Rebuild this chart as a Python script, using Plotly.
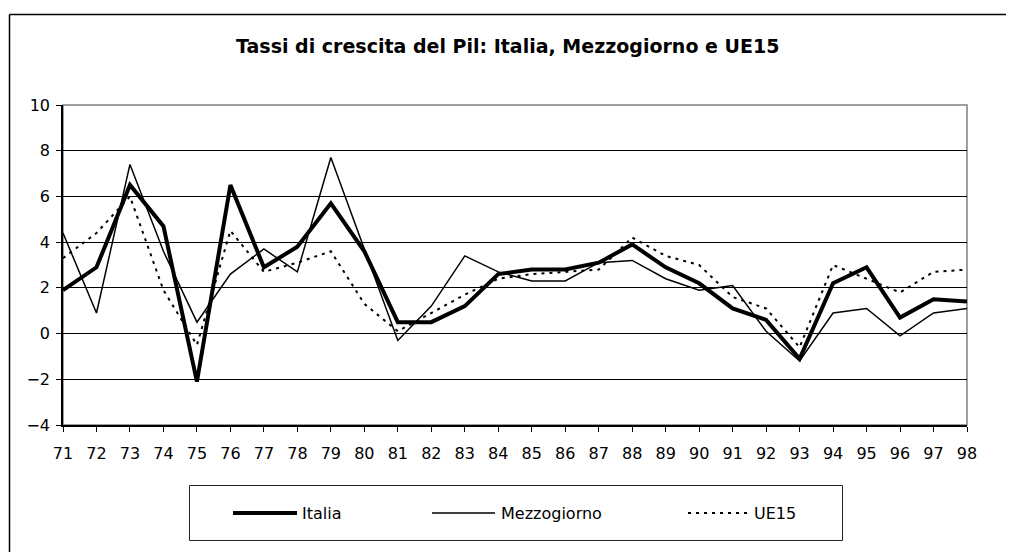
import plotly.graph_objects as go

years = ["71","72","73","74","75","76","77","78","79","80","81","82","83","84",
         "85","86","87","88","89","90","91","92","93","94","95","96","97","98"]
italia = [1.9, 2.9, 6.5, 4.7, -2.1, 6.5, 2.9, 3.8, 5.7, 3.6, 0.5, 0.5, 1.2, 2.6,
          2.8, 2.8, 3.1, 3.9, 2.9, 2.2, 1.1, 0.6, -1.1, 2.2, 2.9, 0.7, 1.5, 1.4]
mezzogiorno = [4.4, 0.9, 7.4, 3.6, 0.5, 2.6, 3.7, 2.7, 7.7, 3.7, -0.3, 1.2, 3.4, 2.7,
               2.3, 2.3, 3.1, 3.2, 2.4, 1.9, 2.1, 0.1, -1.2, 0.9, 1.1, -0.1, 0.9, 1.1]
ue15 = [3.3, 4.4, 6.0, 1.9, -0.5, 4.5, 2.7, 3.1, 3.6, 1.3, 0.1, 0.9, 1.7, 2.4,
        2.6, 2.7, 2.8, 4.2, 3.4, 3.0, 1.6, 1.1, -0.6, 3.0, 2.4, 1.8, 2.7, 2.8]
series_names = ["Italia", "Mezzogiorno", "UE15"]
title_text = "Tassi di crescita del Pil: Italia, Mezzogiorno e UE15"

# page body margin (8px) offsets the figure inside the window
OFF = 8
W, H = 1014 - 2 * OFF, 560 - 2 * OFF
# plot area in window pixels: x 63..967, y 105..425
L, R, T, B = 63 - OFF, W - (967 - OFF), 105 - OFF, H - (425 - OFF)
PW, PH = W - L - R, H - T - B

def px(x):
    return (x - OFF - L) / PW

def py(y):
    return (H - B - (y - OFF)) / PH

FONT = "DejaVu Sans, Verdana, sans-serif"

fig = go.Figure()
fig.add_trace(go.Scatter(x=years, y=ue15, mode="lines", name=series_names[2],
                         line=dict(color="black", width=2, dash="3px,5px")))
fig.add_trace(go.Scatter(x=years, y=mezzogiorno, mode="lines", name=series_names[1],
                         line=dict(color="black", width=1.5)))
fig.add_trace(go.Scatter(x=years, y=italia, mode="lines", name=series_names[0],
                         line=dict(color="black", width=4)))

shapes = []
shapes.append(dict(type="rect", xref="paper", yref="paper", x0=0, x1=1, y0=0, y1=1,
                   line=dict(color="#808080", width=1.5), layer="below"))
# outer chart frame: only top and left edges are inside the picture
shapes.append(dict(type="line", xref="paper", yref="paper",
                   x0=px(9.5), x1=px(1020), y0=py(14.5), y1=py(14.5),
                   line=dict(color="black", width=1.5)))
shapes.append(dict(type="line", xref="paper", yref="paper",
                   x0=px(9.5), x1=px(9.5), y0=py(14.5), y1=py(570),
                   line=dict(color="black", width=1.5)))
shapes.append(dict(type="rect", xref="paper", yref="paper",
                   x0=px(189.5), x1=px(842.5), y0=py(540.5), y1=py(485.5),
                   line=dict(color="#222", width=1)))
leg = [(233, 297, 300, 4, "solid"), (432, 495, 499, 1.5, "solid"), (688, 750, 752, 2, "3px,5px")]
annotations = []
for (a, b, tx, w, d), name in zip(leg, series_names):
    shapes.append(dict(type="line", xref="paper", yref="paper",
                       x0=px(a), x1=px(b), y0=py(513), y1=py(513),
                       line=dict(color="black", width=w, dash=d)))
    annotations.append(dict(text=name, xref="paper", yref="paper", x=px(tx), y=py(513),
                            xanchor="left", yanchor="middle", showarrow=False,
                            font=dict(family=FONT, size=16, color="black")))
annotations.append(dict(text="<b>" + title_text + "</b>", xref="paper", yref="paper",
                        x=px(507), y=py(46), xanchor="center", yanchor="middle",
                        showarrow=False, font=dict(family=FONT, size=19, color="black")))

fig.update_layout(
    width=W, height=H, margin=dict(l=L, r=R, t=T, b=B, pad=0),
    paper_bgcolor="white", plot_bgcolor="white", showlegend=False,
    shapes=shapes, annotations=annotations,
    font=dict(family=FONT, size=16, color="black"),
)
fig.update_xaxes(type="category", range=[0, len(years) - 1], showgrid=False,
                 showline=True, linecolor="black", linewidth=1.5,
                 ticks="outside", ticklen=5, tickcolor="black", tickwidth=1,
                 zeroline=False, tickfont=dict(size=16), ticklabelstandoff=8)
fig.update_yaxes(range=[-4, 10], dtick=2, showgrid=True, gridcolor="black", gridwidth=1,
                 showline=True, linecolor="black", linewidth=1.5,
                 ticks="outside", ticklen=5, tickcolor="black", tickwidth=1,
                 zeroline=False, tickfont=dict(size=16), ticklabelstandoff=3)

fig.write_html("out.html")
